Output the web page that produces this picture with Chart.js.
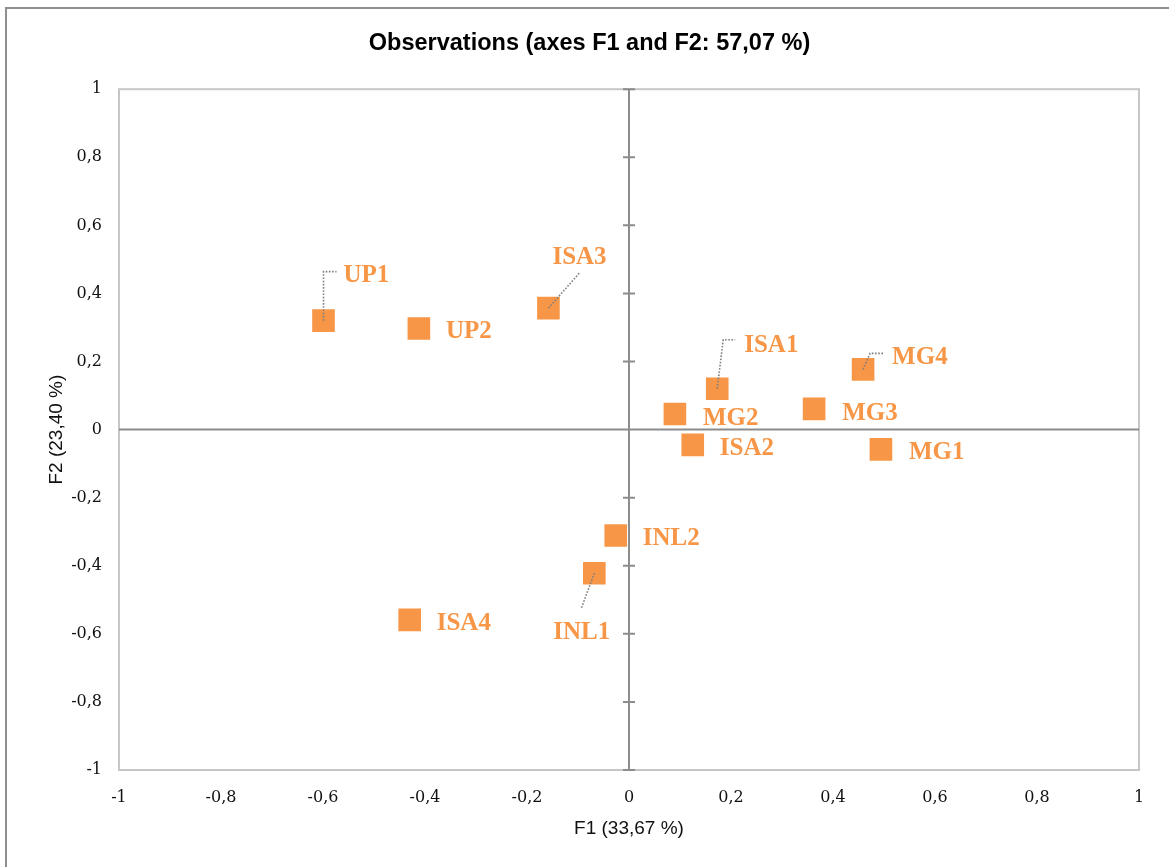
<!DOCTYPE html>
<html>
<head>
<meta charset="utf-8">
<script src="https://cdn.jsdelivr.net/npm/chart.js@4"></script>
<style>
  html, body { margin: 0; padding: 0; background: #fff; overflow: hidden; }
  #wrap { position: relative; width: 1169px; height: 867px; }
  #edge { position: absolute; left: 5px; top: 7px; right: 0; bottom: 0; border-left: 2px solid #8f8f8f; border-top: 2px solid #8f8f8f; }
  canvas { position: absolute; left: 0; top: 0; }
</style>
</head>
<body>
<div id="wrap">
  <div id="edge"></div>
  <canvas id="c" width="1169" height="867"></canvas>
</div>
<script>
const ORANGE = "#F79646";
const AXIS = "#8c8c8c";

// observations (F1, F2 coordinates)
const names = ["UP1", "UP2", "ISA3", "ISA1", "MG4", "MG2", "MG3", "ISA2", "MG1", "INL2", "INL1", "ISA4"];
const f1 = [-0.599, -0.412, -0.158, 0.173, 0.459, 0.090, 0.363, 0.125, 0.494, -0.026, -0.068, -0.430];
const f2 = [0.320, 0.297, 0.357, 0.120, 0.177, 0.046, 0.061, -0.045, -0.058, -0.311, -0.422, -0.559];

// label placement (pixel offsets from the marker) and dotted leader paths
const labelDx = [20, 27, 4, 27, 29, 28, 28, 27, 28, 27, -41, 27];
const labelDy = [-39, 9, -44, -37, -5, 11, 11, 10, 10, 10, 66, 10];
const leaders = {
  UP1: [[0, 0], [0, -49], [13, -49]],
  ISA3: [[0, 0], [31, -35]],
  ISA1: [[0, 0], [6, -49], [18, -49]],
  MG4: [[0, 0], [7, -16], [20, -16]],
  INL1: [[0, 0], [-13, 35]],
};

const fmt = (v) => {
  const r = Math.round(v * 10) / 10;
  return (Number.isInteger(r) ? String(r) : r.toFixed(1)).replace(".", ",");
};

const frame = {
  id: "frame",
  beforeDatasetsDraw(chart) {
    const { ctx, chartArea: a, scales: { x, y } } = chart;
    ctx.save();
    ctx.strokeStyle = "#c6c6c6";
    ctx.lineWidth = 2;
    ctx.strokeRect(a.left, a.top, a.right - a.left, a.bottom - a.top);
    const x0 = x.getPixelForValue(0), y0 = y.getPixelForValue(0);
    ctx.strokeStyle = AXIS;
    ctx.lineWidth = 2;
    ctx.beginPath();
    ctx.moveTo(a.left, y0); ctx.lineTo(a.right, y0);
    ctx.moveTo(x0, a.top); ctx.lineTo(x0, a.bottom);
    for (const t of y.ticks) {
      if (Math.abs(t.value) < 1e-9) continue;
      const py = y.getPixelForValue(t.value);
      ctx.moveTo(x0 - 6, py); ctx.lineTo(x0 + 6, py);
    }
    ctx.stroke();
    ctx.restore();
  },
  afterDatasetsDraw(chart) {
    const { ctx } = chart;
    const pts = chart.getDatasetMeta(0).data;
    ctx.save();
    // leaders
    ctx.strokeStyle = "#7f7f7f";
    ctx.lineWidth = 1.6;
    ctx.setLineDash([1.6, 1.6]);
    names.forEach((n, i) => {
      const path = leaders[n];
      if (!path) return;
      const p = pts[i];
      ctx.beginPath();
      path.forEach(([dx, dy], k) => (k ? ctx.lineTo(p.x + dx, p.y + dy) : ctx.moveTo(p.x + dx, p.y + dy)));
      ctx.stroke();
    });
    ctx.setLineDash([]);
    // labels
    ctx.fillStyle = ORANGE;
    ctx.font = "bold 25px 'Liberation Serif', serif";
    ctx.textAlign = "left";
    ctx.textBaseline = "alphabetic";
    names.forEach((n, i) => {
      const p = pts[i];
      ctx.fillText(n, p.x + labelDx[i], p.y + labelDy[i]);
    });
    ctx.restore();
  },
};

new Chart(document.getElementById("c"), {
  type: "scatter",
  data: {
    datasets: [{
      data: f1.map((v, i) => ({ x: v, y: f2[i] })),
      pointStyle: "rect",
      pointRadius: 16,
      pointHoverRadius: 16,
      backgroundColor: ORANGE,
      borderColor: ORANGE,
      borderWidth: 0,
    }],
  },
  options: {
    responsive: false,
    animation: false,
    layout: { padding: { top: 0, right: 30, bottom: 0, left: 40 } },
    plugins: {
      legend: { display: false },
      tooltip: { enabled: false },
      title: {
        display: true,
        text: "Observations (axes F1 and F2: 57,07 %)",
        color: "#000",
        font: { family: "'Liberation Sans', Arial, sans-serif", size: 23.5, weight: "bold", lineHeight: 1.2 },
        padding: { top: 29, bottom: 32 },
      },
    },
    scales: {
      x: {
        type: "linear",
        min: -1, max: 1,
        grid: { display: false, drawTicks: false },
        border: { display: false },
        ticks: {
          stepSize: 0.2, padding: 18, color: "#111", callback: fmt, maxRotation: 0,
          font: { family: "'DejaVu Serif', serif", size: 16 },
        },
        title: {
          display: true, text: "F1 (33,67 %)", color: "#111",
          font: { family: "'Liberation Sans', Arial, sans-serif", size: 19 },
          padding: { top: 0, bottom: 27 },
        },
        afterFit: (s) => { s.height = 97; },
      },
      y: {
        type: "linear",
        min: -1, max: 1,
        grid: { display: false, drawTicks: false },
        border: { display: false },
        ticks: {
          stepSize: 0.2, padding: 17, color: "#111", callback: fmt,
          font: { family: "'DejaVu Serif', serif", size: 16 },
        },
        title: {
          display: true, text: "F2 (23,40 %)", color: "#111",
          font: { family: "'Liberation Sans', Arial, sans-serif", size: 19 },
          padding: { top: 5, bottom: 0 },
        },
        afterFit: (s) => { s.width = 79; },
      },
    },
  },
  plugins: [frame],
});
</script>
</body>
</html>
